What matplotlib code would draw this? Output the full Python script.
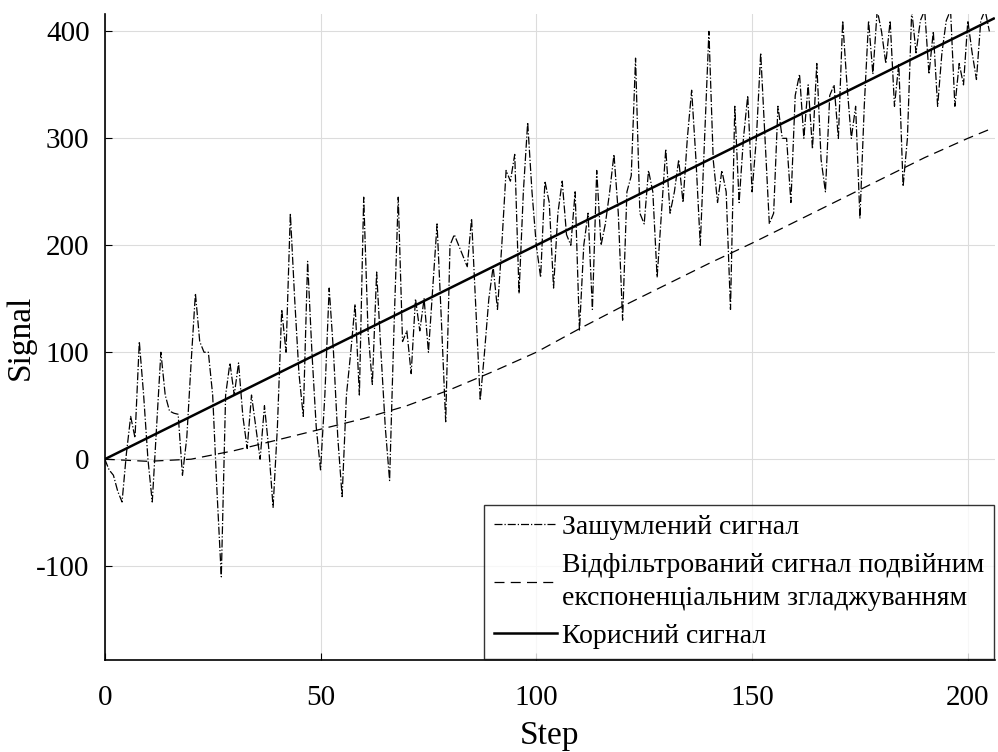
import numpy as np
import matplotlib
matplotlib.use("Agg")
import matplotlib.pyplot as plt

# noisy signal, one value per step
noisy = [0, -10, -15, -30, -40, 5, 40, 20, 110, 60,
         0, -40, 30, 100, 60, 45, 43, 42, -15, 20,
         90, 155, 110, 100, 100, 60, -30, -110, 60, 90,
         60, 90, 40, 10, 60, 30, 0, 50, 10, -45,
         30, 140, 100, 230, 150, 80, 40, 185, 100, 30,
         -10, 60, 160, 100, 20, -35, 60, 100, 145, 60,
         245, 120, 70, 175, 100, 30, -20, 120, 245, 110,
         120, 80, 150, 120, 150, 100, 160, 220, 130, 35,
         200, 210, 200, 190, 180, 225, 140, 55, 100, 150,
         180, 140, 200, 270, 260, 285, 155, 250, 315, 250,
         200, 170, 260, 240, 160, 230, 260, 210, 200, 250,
         120, 200, 230, 140, 270, 200, 220, 250, 285, 230,
         130, 250, 265, 375, 230, 220, 270, 250, 170, 230,
         290, 230, 250, 280, 240, 300, 345, 280, 200, 300,
         400, 280, 240, 270, 250, 140, 330, 240, 300, 340,
         250, 300, 380, 300, 220, 230, 330, 300, 300, 240,
         340, 360, 300, 350, 290, 370, 280, 250, 340, 350,
         300, 410, 350, 300, 330, 225, 330, 410, 360, 420,
         400, 370, 410, 330, 370, 255, 300, 420, 380, 410,
         420, 360, 400, 330, 380, 410, 420, 330, 370, 350,
         410, 380, 355, 410, 420, 400]
steps = np.arange(len(noisy))

# double exponential smoothing output, sampled every 10 steps
filt_steps = [0, 10, 20, 30, 40, 50, 60, 70, 80, 90, 100,
              110, 120, 130, 140, 150, 160, 170, 180, 190, 200, 206]
filt_vals = [0, -2, 0, 8, 18, 28, 38, 50, 65, 82, 100,
             122, 143, 163, 183, 202, 222, 242, 262, 282, 300, 310]

# useful signal (straight line)
useful_steps = [0, 206]
useful_vals = [0, 412]

plt.rcParams['font.family'] = ['Liberation Serif', 'DejaVu Serif']
plt.rcParams['axes.unicode_minus'] = False

fig = plt.figure(figsize=(9.98, 7.52), dpi=100)
ax = fig.add_axes([0.105, 0.122, 0.892, 0.859])

ax.plot(steps, noisy, color='black', linestyle='-.', linewidth=0.9,
        label='Зашумлений сигнал')
ax.plot(filt_steps, filt_vals, color='black', linestyle=(0, (8, 5)), linewidth=0.9,
        label='Відфільтрований сигнал подвійним\nекспоненціальним згладжуванням')
ax.plot(useful_steps, useful_vals, color='black', linestyle='-', linewidth=1.8,
        label='Корисний сигнал')

ax.set_xlim(0, 206.3)
ax.set_ylim(-188, 416)
ax.set_xticks([0, 50, 100, 150, 200])
ax.set_yticks([-100, 0, 100, 200, 300, 400])

ax.grid(True, color='#dcdcdc', linewidth=0.8)
ax.set_axisbelow(True)
for s in ['top', 'right']:
    ax.spines[s].set_visible(False)
for s in ['left', 'bottom']:
    ax.spines[s].set_linewidth(1.2)

ax.tick_params(direction='in', length=5, labelsize=21)
ax.tick_params(axis='x', pad=18)
ax.tick_params(axis='y', pad=11)
ax.set_xlabel('Step', fontsize=24, labelpad=7)
ax.set_ylabel('Signal', fontsize=24, labelpad=0)

leg = ax.legend(loc='lower right', fontsize=20, frameon=True, fancybox=False,
                edgecolor='black', handlelength=2.3, handletextpad=0.15,
                borderaxespad=0.05, labelspacing=0.45, borderpad=0.35)
leg.get_frame().set_linewidth(1.0)
for t in leg.get_texts():
    t.set_linespacing(1.45)

fig.savefig('out.png', dpi=100)
